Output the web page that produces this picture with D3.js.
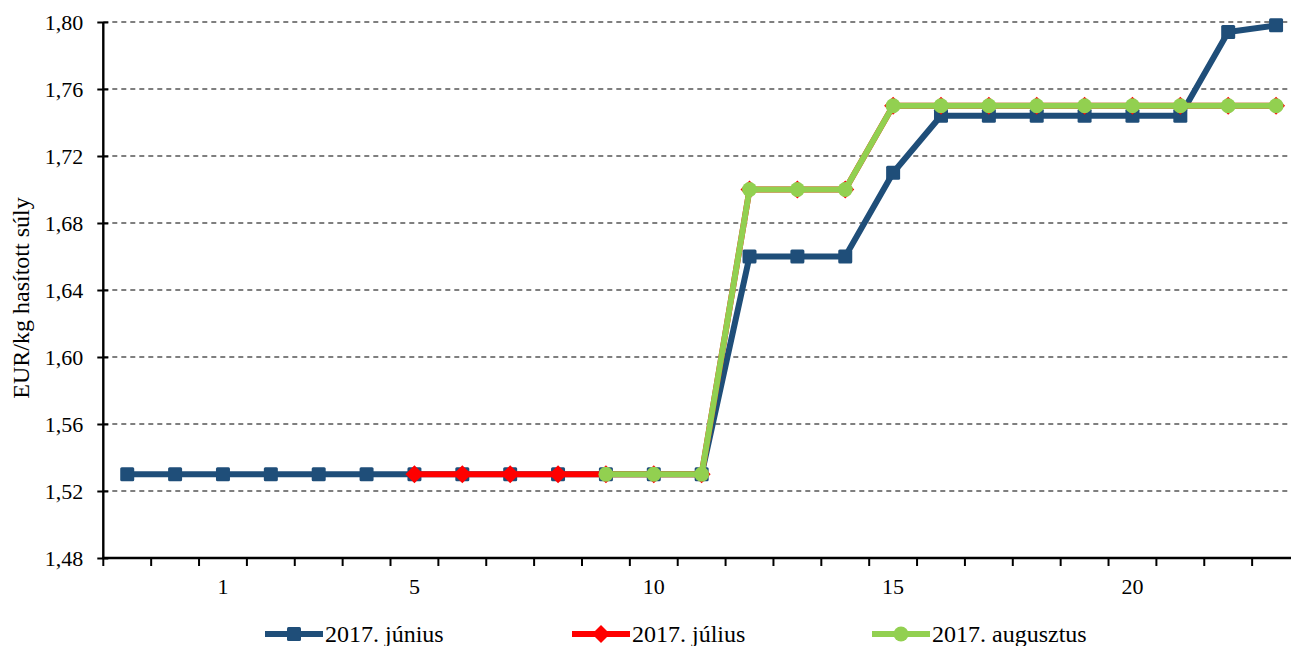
<!DOCTYPE html>
<html><head><meta charset="utf-8">
<script src="https://cdn.jsdelivr.net/npm/d3@7"></script>
<style>body{margin:0;background:#fff}svg{display:block}svg text{font-family:'Liberation Serif','Times New Roman',serif !important;fill:#000}</style>
</head><body>
<svg id="c" width="1291" height="646"></svg>
<script>
const categories = ["51","52","1","2","3","4","5","6","7","8","9","10","11","12","13","14","15","16","17","18","19","20","21","22","23"];
const shownLabels = ["1","5","10","15","20"];
const yTicks = [1.48,1.52,1.56,1.60,1.64,1.68,1.72,1.76,1.80];
const june = [1.53,1.53,1.53,1.53,1.53,1.53,1.53,1.53,1.53,1.53,1.53,1.53,1.53,1.66,1.66,1.66,1.71,1.744,1.744,1.744,1.744,1.744,1.744,1.794,1.798];
const july = [null,null,null,null,null,null,1.53,1.53,1.53,1.53,1.53,1.53,1.53,1.70,1.70,1.70,1.75,1.75,1.75,1.75,1.75,1.75,1.75,1.75,1.75];
const august = [null,null,null,null,null,null,null,null,null,null,1.53,1.53,1.53,1.70,1.70,1.70,1.75,1.75,1.75,1.75,1.75,1.75,1.75,1.75,1.75];
const seriesNames = ["2017. június","2017. július","2017. augusztus"];
</script>
<script>
const FF = "'Liberation Serif', 'Times New Roman', serif";
const svg = d3.select("#c");
const L = 103.3, R = 1300, T = 22, B = 558;
const x = d3.scaleBand().domain(categories).range([L, R]).padding(0);
const bw = x.bandwidth();
const cx = c => x(c) + bw/2;
const y = d3.scaleLinear().domain([1.48, 1.80]).range([B, T]);
const fmt = v => d3.format(".2f")(v).replace(".", ",");

// gridlines
svg.append("g").selectAll("line").data(yTicks.filter(v => v > 1.48)).join("line")
  .attr("x1", L).attr("x2", R).attr("y1", d => y(d)).attr("y2", d => y(d))
  .attr("stroke", "#000").attr("stroke-width", 1.2).attr("stroke-dasharray", "5,4");

// y axis
const yAx = svg.append("g").attr("transform", `translate(${L},0)`)
  .call(d3.axisLeft(y).tickValues(yTicks).tickFormat(fmt).tickSize(6).tickPadding(14));
yAx.attr("font-family", FF);
yAx.select(".domain").attr("stroke", "#000").attr("stroke-width", 2.4).attr("d", `M0,${T}V${B}`);
yAx.selectAll(".tick line").attr("stroke", "#000").attr("stroke-width", 2).attr("x1", 5).attr("x2", -6);
yAx.selectAll(".tick text").attr("font-size", 22).attr("font-family", FF).attr("fill", "#000");

// x axis
const xAx = svg.append("g").attr("transform", `translate(0,${B})`);
xAx.append("line").attr("x1", L - 1).attr("x2", R).attr("stroke", "#000").attr("stroke-width", 2.4);
const edges = categories.map(c => x(c)).concat([R]);
xAx.selectAll("line.tk").data(edges).join("line").attr("class", "tk")
  .attr("x1", d => d).attr("x2", d => d).attr("y1", 0).attr("y2", 8)
  .attr("stroke", "#000").attr("stroke-width", 2);
xAx.selectAll("text").data(shownLabels).join("text")
  .attr("x", d => cx(d)).attr("y", 36).attr("text-anchor", "middle")
  .attr("font-family", FF).attr("font-size", 22).text(d => d);

// y label
svg.append("text").attr("transform", "translate(29,298) rotate(-90)")
  .attr("text-anchor", "middle").attr("font-family", FF).attr("font-size", 24).text("EUR/kg hasított súly");

const colors = ["#1F4E79", "#FF0000", "#92D050"];
const datasets = [june, july, august];
const line = d3.line().defined(d => d.v != null).x(d => cx(d.c)).y(d => y(d.v));
function diamondPath(px, py, r) { return `M${px},${py - r}L${px + r},${py}L${px},${py + r}L${px - r},${py}Z`; }
function drawMarker(g, si, px, py) {
  if (si === 0) g.append("rect").attr("x", px - 7).attr("y", py - 7).attr("width", 14).attr("height", 14).attr("rx", 1.5).attr("fill", colors[0]);
  else if (si === 1) g.append("path").attr("d", diamondPath(px, py, 9)).attr("fill", colors[1]);
  else g.append("circle").attr("cx", px).attr("cy", py).attr("r", 7.5).attr("fill", colors[2]);
}

datasets.forEach((arr, si) => {
  const pts = categories.map((c, i) => ({c, v: arr[i]}));
  const g = svg.append("g");
  g.append("path").datum(pts).attr("d", line).attr("fill", "none")
    .attr("stroke", colors[si]).attr("stroke-width", 6).attr("stroke-linejoin", "round");
  pts.filter(d => d.v != null).forEach(d => drawMarker(g, si, cx(d.c), y(d.v)));
});

// legend
const legX = [265, 572, 872];
const legY = 634;
seriesNames.forEach((n, si) => {
  const g = svg.append("g");
  const x0 = legX[si], x1 = x0 + 58, mx = (x0 + x1) / 2;
  g.append("line").attr("x1", x0).attr("x2", x1).attr("y1", legY).attr("y2", legY)
    .attr("stroke", colors[si]).attr("stroke-width", 6);
  drawMarker(g, si, mx, legY);
  g.append("text").attr("x", x1 + 2).attr("y", 642).attr("font-family", FF).attr("font-size", 24).text(n);
});
</script>
</body></html>
